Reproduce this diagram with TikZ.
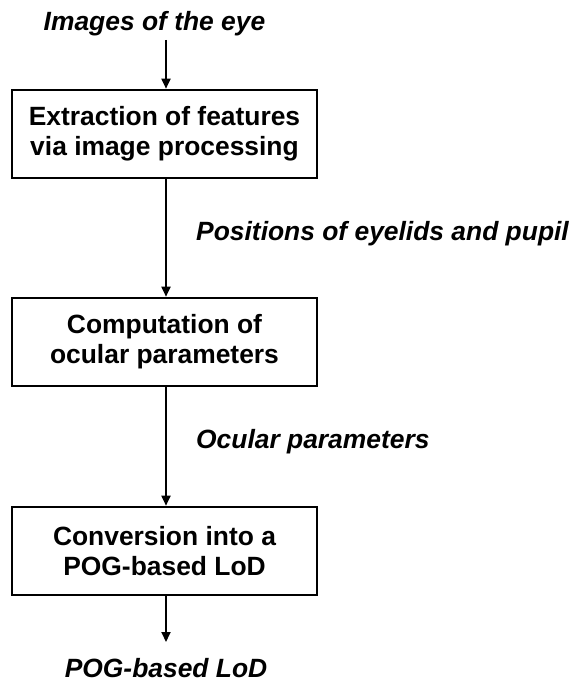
\documentclass[tikz,border=0pt]{standalone}
\usepackage{fontspec}
\setmainfont{Liberation Sans}
\usetikzlibrary{arrows.meta}
\tikzset{
  procbox/.style={draw=black, line width=2.6pt, minimum width=305pt, minimum height=88pt, inner sep=0pt, align=center, font=\fontsize{26.4pt}{30pt}\selectfont\bfseries},
  lbl/.style={inner sep=0pt, font=\fontsize{26.4pt}{30pt}\selectfont\bfseries\itshape},
  flow/.style={line width=1.8pt, -{Triangle[width=9pt,length=10pt]}}
}
\begin{document}
\begin{tikzpicture}[x=1pt,y=1pt]
\useasboundingbox (0,0) rectangle (574,-682);
\node[lbl, anchor=base] (img) at (154.5,-31) {Images of the eye};
\coordinate (s) at (166,-40);
\node[procbox] (b1) at (164.5,-134) {Extraction of features\\via image processing};
\node[procbox] (b2) at (164.5,-342) {Computation of\\ocular parameters};
\node[procbox] (b3) at (164.5,-551) {Conversion into a\\POG-based LoD};
\coordinate (e) at (166,-642);
\node[lbl, anchor=base west] (l1) at (196,-240) {Positions of eyelids and pupil};
\node[lbl, anchor=base west] (l2) at (196,-448) {Ocular parameters};
\node[lbl, anchor=base] (out) at (166,-677) {POG-based LoD};
\draw[flow] (s) -- (s |- b1.north);
\draw[flow] (s |- b1.south) -- (s |- b2.north);
\draw[flow] (s |- b2.south) -- (s |- b3.north);
\draw[flow] (s |- b3.south) -- (e);
\end{tikzpicture}
\end{document}
